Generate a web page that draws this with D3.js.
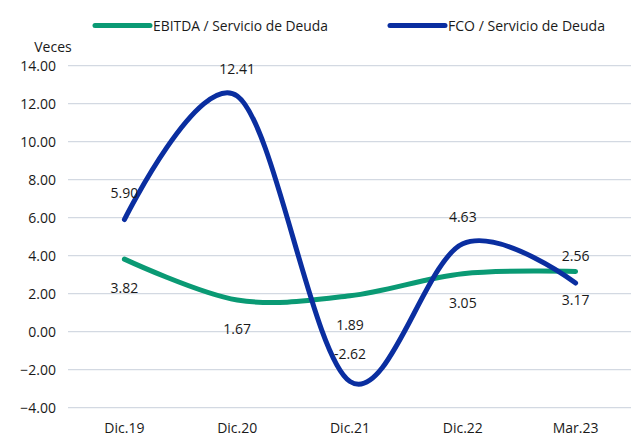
<!DOCTYPE html>
<html><head><meta charset="utf-8">
<script src="https://cdn.jsdelivr.net/npm/d3@7"></script>
<style>body{margin:0;background:#fff}svg{display:block}text{font-family:"Open Sans",sans-serif;fill:#1a1a1a}</style>
</head><body>
<svg id="c" width="634" height="439"></svg>
<script>
const categories = ["Dic.19","Dic.20","Dic.21","Dic.22","Mar.23"];
const ebitda = [3.82, 1.67, 1.89, 3.05, 3.17];
const fco = [5.90, 12.41, -2.62, 4.63, 2.56];
const yTicks = [14, 12, 10, 8, 6, 4, 2, 0, -2, -4];
const seriesNames = ["EBITDA / Servicio de Deuda", "FCO / Servicio de Deuda"];
const colors = ["#0a9a74", "#0a2ea0"];

const svg = d3.select("#c");
const x = d3.scaleBand().domain(categories).range([68, 632]);
const y = d3.scaleLinear().domain([-4, 14]).range([407.7, 65.7]);
const cx = d => x(d) + x.bandwidth()/2;

// grid
svg.append("g").selectAll("line").data(yTicks).join("line")
  .attr("x1", 68).attr("x2", 631)
  .attr("y1", d => y(d)).attr("y2", d => y(d))
  .attr("stroke", "#d3d9e2").attr("stroke-width", 1.3);

// y axis labels
const yAxis = d3.axisLeft(y).tickValues(yTicks).tickFormat(d3.format(".2f")).tickSize(0).tickPadding(0);
const ga = svg.append("g").attr("transform", "translate(56,0)").call(yAxis);
ga.select(".domain").remove();
ga.selectAll("text").attr("font-size", 14).attr("font-family", '"Open Sans",sans-serif').attr("fill", "#1a1a1a");

svg.append("text").attr("x", 53).attr("y", 52).attr("text-anchor", "middle").attr("font-size", 14).text("Veces");

// x axis labels
const xAxis = d3.axisBottom(x).tickSize(0).tickPadding(0);
const gx = svg.append("g").attr("transform", "translate(0,423)").call(xAxis);
gx.select(".domain").remove();
gx.selectAll("text").attr("font-size", 14).attr("font-family", '"Open Sans",sans-serif').attr("fill", "#1a1a1a");

const line = d3.line().x((d,i) => cx(categories[i])).y(d => y(d)).curve(d3.curveCardinal.tension(0));
const data = [ebitda, fco];
data.forEach((s, k) => {
  svg.append("path").attr("d", line(s)).attr("fill", "none")
    .attr("stroke", colors[k]).attr("stroke-width", 5).attr("stroke-linecap", "round");
});

// labels
svg.append("g").selectAll("text").data(ebitda).join("text")
  .attr("x", (d,i) => cx(categories[i])).attr("y", d => y(d) + 34)
  .attr("text-anchor", "middle").attr("font-size", 14).text(d => d.toFixed(2));
svg.append("g").selectAll("text").data(fco).join("text")
  .attr("x", (d,i) => cx(categories[i])).attr("y", d => y(d) - 22)
  .attr("text-anchor", "middle").attr("font-size", 14).text(d => d.toFixed(2));

// legend
const legX = [95, 390];
const legW = [175, 157];
seriesNames.forEach((n, k) => {
  svg.append("line").attr("x1", legX[k]).attr("x2", legX[k] + 55).attr("y1", 25.5).attr("y2", 25.5)
    .attr("stroke", colors[k]).attr("stroke-width", 5).attr("stroke-linecap", "round");
  svg.append("text").attr("x", legX[k] + 58).attr("y", 30.5).attr("font-size", 14)
    .attr("textLength", legW[k]).attr("lengthAdjust", "spacingAndGlyphs").text(n);
});
</script>
</body></html>
